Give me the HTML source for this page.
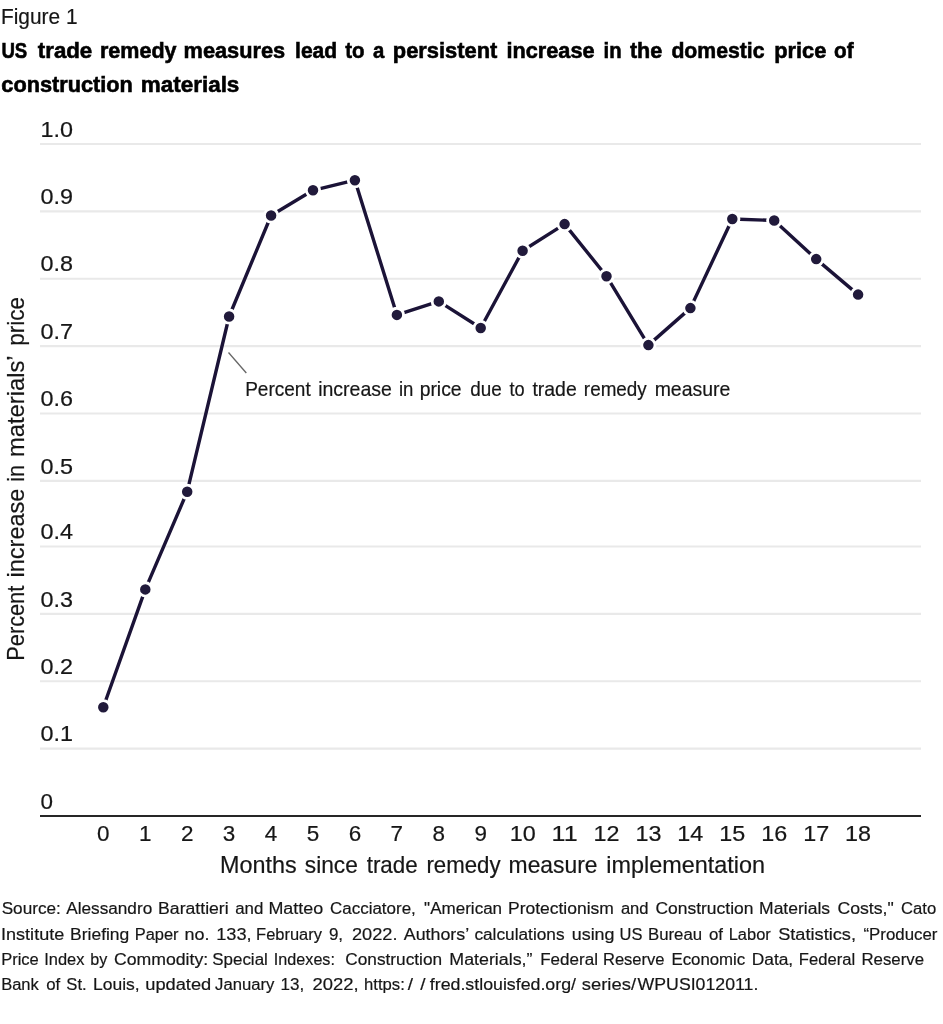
<!DOCTYPE html>
<html lang="en"><head><meta charset="utf-8"><title>Figure 1</title>
<style>
html,body{margin:0;padding:0;background:#fff;}
body{width:943px;height:1024px;overflow:hidden;}
svg{display:block;will-change:transform;}
text{font-family:"Liberation Sans", Arial, Helvetica, sans-serif;fill:#161616;stroke:#161616;stroke-width:0.2px;}
.b{font-weight:700;fill:#000;stroke:#000;stroke-width:0.6px;}
</style></head><body>
<svg width="943" height="1024" viewBox="0 0 943 1024">
<rect x="0" y="0" width="943" height="1024" fill="#ffffff"/>
<!-- header -->
<text x="1.00" y="23.90" font-size="21.60" textLength="76.50" lengthAdjust="spacingAndGlyphs">Figure 1</text>
<text y="57.70" font-size="22.80" class="b"><tspan x="1.38" textLength="25.89" lengthAdjust="spacingAndGlyphs">US</tspan> <tspan x="37.80" textLength="54.46" lengthAdjust="spacingAndGlyphs">trade</tspan> <tspan x="99.96" textLength="76.54" lengthAdjust="spacingAndGlyphs">remedy</tspan> <tspan x="183.55" textLength="101.60" lengthAdjust="spacingAndGlyphs">measures</tspan> <tspan x="295.08" textLength="42.08" lengthAdjust="spacingAndGlyphs">lead</tspan> <tspan x="345.20" textLength="19.33" lengthAdjust="spacingAndGlyphs">to</tspan> <tspan x="373.06" textLength="11.29" lengthAdjust="spacingAndGlyphs">a</tspan> <tspan x="392.84" textLength="104.47" lengthAdjust="spacingAndGlyphs">persistent</tspan> <tspan x="506.55" textLength="88.00" lengthAdjust="spacingAndGlyphs">increase</tspan> <tspan x="603.50" textLength="18.04" lengthAdjust="spacingAndGlyphs">in</tspan> <tspan x="629.90" textLength="32.34" lengthAdjust="spacingAndGlyphs">the</tspan> <tspan x="671.40" textLength="93.10" lengthAdjust="spacingAndGlyphs">domestic</tspan> <tspan x="774.24" textLength="52.11" lengthAdjust="spacingAndGlyphs">price</tspan> <tspan x="834.00" textLength="19.53" lengthAdjust="spacingAndGlyphs">of</tspan></text>
<text y="92.30" font-size="22.80" class="b"><tspan x="1.30" textLength="131.58" lengthAdjust="spacingAndGlyphs">construction</tspan> <tspan x="140.82" textLength="98.55" lengthAdjust="spacingAndGlyphs">materials</tspan></text>
<!-- grid -->
<line x1="40.0" y1="748.63" x2="921.0" y2="748.63" stroke="#e9e9e9" stroke-width="2.1"/>
<line x1="40.0" y1="681.26" x2="921.0" y2="681.26" stroke="#e9e9e9" stroke-width="2.1"/>
<line x1="40.0" y1="613.90" x2="921.0" y2="613.90" stroke="#e9e9e9" stroke-width="2.1"/>
<line x1="40.0" y1="546.50" x2="921.0" y2="546.50" stroke="#e9e9e9" stroke-width="2.1"/>
<line x1="40.0" y1="480.85" x2="921.0" y2="480.85" stroke="#e9e9e9" stroke-width="2.1"/>
<line x1="40.0" y1="413.50" x2="921.0" y2="413.50" stroke="#e9e9e9" stroke-width="2.1"/>
<line x1="40.0" y1="346.10" x2="921.0" y2="346.10" stroke="#e9e9e9" stroke-width="2.1"/>
<line x1="40.0" y1="278.76" x2="921.0" y2="278.76" stroke="#e9e9e9" stroke-width="2.1"/>
<line x1="40.0" y1="211.40" x2="921.0" y2="211.40" stroke="#e9e9e9" stroke-width="2.1"/>
<line x1="40.0" y1="144.00" x2="921.0" y2="144.00" stroke="#e9e9e9" stroke-width="2.1"/>
<text x="40.50" y="808.70" font-size="22.00" textLength="12.50" lengthAdjust="spacingAndGlyphs">0</text>
<text x="40.50" y="741.33" font-size="22.00" textLength="32.50" lengthAdjust="spacingAndGlyphs">0.1</text>
<text x="40.50" y="673.96" font-size="22.00" textLength="32.50" lengthAdjust="spacingAndGlyphs">0.2</text>
<text x="40.50" y="606.60" font-size="22.00" textLength="32.50" lengthAdjust="spacingAndGlyphs">0.3</text>
<text x="40.50" y="539.20" font-size="22.00" textLength="32.50" lengthAdjust="spacingAndGlyphs">0.4</text>
<text x="40.50" y="473.55" font-size="22.00" textLength="32.50" lengthAdjust="spacingAndGlyphs">0.5</text>
<text x="40.50" y="406.20" font-size="22.00" textLength="32.50" lengthAdjust="spacingAndGlyphs">0.6</text>
<text x="40.50" y="338.80" font-size="22.00" textLength="32.50" lengthAdjust="spacingAndGlyphs">0.7</text>
<text x="40.50" y="271.46" font-size="22.00" textLength="32.50" lengthAdjust="spacingAndGlyphs">0.8</text>
<text x="40.50" y="204.10" font-size="22.00" textLength="32.50" lengthAdjust="spacingAndGlyphs">0.9</text>
<text x="40.50" y="136.70" font-size="22.00" textLength="32.50" lengthAdjust="spacingAndGlyphs">1.0</text>
<line x1="40.0" y1="816.00" x2="921.0" y2="816.00" stroke="#262626" stroke-width="2.2"/>
<!-- x axis -->
<text x="103.35" y="840.60" font-size="22.00" textLength="12.50" lengthAdjust="spacingAndGlyphs" text-anchor="middle">0</text>
<text x="145.28" y="840.60" font-size="22.00" textLength="12.50" lengthAdjust="spacingAndGlyphs" text-anchor="middle">1</text>
<text x="187.21" y="840.60" font-size="22.00" textLength="12.50" lengthAdjust="spacingAndGlyphs" text-anchor="middle">2</text>
<text x="229.14" y="840.60" font-size="22.00" textLength="12.50" lengthAdjust="spacingAndGlyphs" text-anchor="middle">3</text>
<text x="271.07" y="840.60" font-size="22.00" textLength="12.50" lengthAdjust="spacingAndGlyphs" text-anchor="middle">4</text>
<text x="313.00" y="840.60" font-size="22.00" textLength="12.50" lengthAdjust="spacingAndGlyphs" text-anchor="middle">5</text>
<text x="354.93" y="840.60" font-size="22.00" textLength="12.50" lengthAdjust="spacingAndGlyphs" text-anchor="middle">6</text>
<text x="396.86" y="840.60" font-size="22.00" textLength="12.50" lengthAdjust="spacingAndGlyphs" text-anchor="middle">7</text>
<text x="438.79" y="840.60" font-size="22.00" textLength="12.50" lengthAdjust="spacingAndGlyphs" text-anchor="middle">8</text>
<text x="480.72" y="840.60" font-size="22.00" textLength="12.50" lengthAdjust="spacingAndGlyphs" text-anchor="middle">9</text>
<text x="522.65" y="840.60" font-size="22.00" textLength="26.00" lengthAdjust="spacingAndGlyphs" text-anchor="middle">10</text>
<text x="564.58" y="840.60" font-size="22.00" textLength="26.00" lengthAdjust="spacingAndGlyphs" text-anchor="middle">11</text>
<text x="606.51" y="840.60" font-size="22.00" textLength="26.00" lengthAdjust="spacingAndGlyphs" text-anchor="middle">12</text>
<text x="648.44" y="840.60" font-size="22.00" textLength="26.00" lengthAdjust="spacingAndGlyphs" text-anchor="middle">13</text>
<text x="690.37" y="840.60" font-size="22.00" textLength="26.00" lengthAdjust="spacingAndGlyphs" text-anchor="middle">14</text>
<text x="732.30" y="840.60" font-size="22.00" textLength="26.00" lengthAdjust="spacingAndGlyphs" text-anchor="middle">15</text>
<text x="774.23" y="840.60" font-size="22.00" textLength="26.00" lengthAdjust="spacingAndGlyphs" text-anchor="middle">16</text>
<text x="816.16" y="840.60" font-size="22.00" textLength="26.00" lengthAdjust="spacingAndGlyphs" text-anchor="middle">17</text>
<text x="858.09" y="840.60" font-size="22.00" textLength="26.00" lengthAdjust="spacingAndGlyphs" text-anchor="middle">18</text>
<text y="872.60" font-size="23.20"><tspan x="219.99" textLength="76.61" lengthAdjust="spacingAndGlyphs">Months</tspan> <tspan x="304.80" textLength="53.08" lengthAdjust="spacingAndGlyphs">since</tspan> <tspan x="366.70" textLength="51.07" lengthAdjust="spacingAndGlyphs">trade</tspan> <tspan x="426.44" textLength="74.17" lengthAdjust="spacingAndGlyphs">remedy</tspan> <tspan x="508.61" textLength="88.97" lengthAdjust="spacingAndGlyphs">measure</tspan> <tspan x="606.29" textLength="158.71" lengthAdjust="spacingAndGlyphs">implementation</tspan></text>
<g transform="translate(24.2 660) rotate(-90)">
<text y="0.00" font-size="23.20"><tspan x="-0.74" textLength="75.02" lengthAdjust="spacingAndGlyphs">Percent</tspan> <tspan x="82.59" textLength="88.82" lengthAdjust="spacingAndGlyphs">increase</tspan> <tspan x="178.13" textLength="16.84" lengthAdjust="spacingAndGlyphs">in</tspan> <tspan x="202.98" textLength="100.79" lengthAdjust="spacingAndGlyphs">materials’</tspan> <tspan x="314.33" textLength="48.74" lengthAdjust="spacingAndGlyphs">price</tspan></text>
</g>
<!-- annotation -->
<line x1="228.5" y1="352.5" x2="246.3" y2="373.0" stroke="#666" stroke-width="1.3"/>
<text y="395.60" font-size="20.20"><tspan x="245.16" textLength="65.57" lengthAdjust="spacingAndGlyphs">Percent</tspan> <tspan x="318.13" textLength="73.69" lengthAdjust="spacingAndGlyphs">increase</tspan> <tspan x="398.98" textLength="14.45" lengthAdjust="spacingAndGlyphs">in</tspan> <tspan x="419.64" textLength="41.98" lengthAdjust="spacingAndGlyphs">price</tspan> <tspan x="470.20" textLength="31.51" lengthAdjust="spacingAndGlyphs">due</tspan> <tspan x="509.47" textLength="15.17" lengthAdjust="spacingAndGlyphs">to</tspan> <tspan x="532.40" textLength="44.32" lengthAdjust="spacingAndGlyphs">trade</tspan> <tspan x="583.87" textLength="62.89" lengthAdjust="spacingAndGlyphs">remedy</tspan> <tspan x="654.64" textLength="75.68" lengthAdjust="spacingAndGlyphs">measure</tspan></text>
<!-- series -->
<polyline fill="none" stroke="#1b1337" stroke-width="3.4" stroke-linejoin="round" stroke-linecap="round" points="103.3,707.3 145.3,589.4 187.2,491.7 229.1,316.5 271.1,215.5 313.0,190.3 354.9,180.2 396.9,314.9 438.8,301.4 480.7,328.0 522.6,250.8 564.6,224.1 606.5,276.2 648.4,345.1 690.4,308.1 732.3,219.0 774.2,220.5 816.2,259.1 858.1,294.6"/>
<circle cx="103.3" cy="707.3" r="6.65" fill="#211a3b" stroke="#fff" stroke-width="2.8"/>
<circle cx="145.3" cy="589.4" r="6.65" fill="#211a3b" stroke="#fff" stroke-width="2.8"/>
<circle cx="187.2" cy="491.7" r="6.65" fill="#211a3b" stroke="#fff" stroke-width="2.8"/>
<circle cx="229.1" cy="316.5" r="6.65" fill="#211a3b" stroke="#fff" stroke-width="2.8"/>
<circle cx="271.1" cy="215.5" r="6.65" fill="#211a3b" stroke="#fff" stroke-width="2.8"/>
<circle cx="313.0" cy="190.3" r="6.65" fill="#211a3b" stroke="#fff" stroke-width="2.8"/>
<circle cx="354.9" cy="180.2" r="6.65" fill="#211a3b" stroke="#fff" stroke-width="2.8"/>
<circle cx="396.9" cy="314.9" r="6.65" fill="#211a3b" stroke="#fff" stroke-width="2.8"/>
<circle cx="438.8" cy="301.4" r="6.65" fill="#211a3b" stroke="#fff" stroke-width="2.8"/>
<circle cx="480.7" cy="328.0" r="6.65" fill="#211a3b" stroke="#fff" stroke-width="2.8"/>
<circle cx="522.6" cy="250.8" r="6.65" fill="#211a3b" stroke="#fff" stroke-width="2.8"/>
<circle cx="564.6" cy="224.1" r="6.65" fill="#211a3b" stroke="#fff" stroke-width="2.8"/>
<circle cx="606.5" cy="276.2" r="6.65" fill="#211a3b" stroke="#fff" stroke-width="2.8"/>
<circle cx="648.4" cy="345.1" r="6.65" fill="#211a3b" stroke="#fff" stroke-width="2.8"/>
<circle cx="690.4" cy="308.1" r="6.65" fill="#211a3b" stroke="#fff" stroke-width="2.8"/>
<circle cx="732.3" cy="219.0" r="6.65" fill="#211a3b" stroke="#fff" stroke-width="2.8"/>
<circle cx="774.2" cy="220.5" r="6.65" fill="#211a3b" stroke="#fff" stroke-width="2.8"/>
<circle cx="816.2" cy="259.1" r="6.65" fill="#211a3b" stroke="#fff" stroke-width="2.8"/>
<circle cx="858.1" cy="294.6" r="6.65" fill="#211a3b" stroke="#fff" stroke-width="2.8"/>
<!-- source note -->
<text y="914.00" font-size="17.30"><tspan x="1.70" textLength="59.10" lengthAdjust="spacingAndGlyphs">Source:</tspan> <tspan x="66.20" textLength="86.01" lengthAdjust="spacingAndGlyphs">Alessandro</tspan> <tspan x="158.08" textLength="70.58" lengthAdjust="spacingAndGlyphs">Barattieri</tspan> <tspan x="235.20" textLength="28.10" lengthAdjust="spacingAndGlyphs">and</tspan> <tspan x="268.46" textLength="54.77" lengthAdjust="spacingAndGlyphs">Matteo</tspan> <tspan x="330.00" textLength="85.79" lengthAdjust="spacingAndGlyphs">Cacciatore,</tspan> <tspan x="424.10" textLength="78.00" lengthAdjust="spacingAndGlyphs">&quot;American</tspan> <tspan x="507.99" textLength="105.91" lengthAdjust="spacingAndGlyphs">Protectionism</tspan> <tspan x="620.90" textLength="27.69" lengthAdjust="spacingAndGlyphs">and</tspan> <tspan x="655.50" textLength="97.92" lengthAdjust="spacingAndGlyphs">Construction</tspan> <tspan x="759.09" textLength="70.95" lengthAdjust="spacingAndGlyphs">Materials</tspan> <tspan x="837.40" textLength="56.34" lengthAdjust="spacingAndGlyphs">Costs,&quot;</tspan> <tspan x="901.00" textLength="35.19" lengthAdjust="spacingAndGlyphs">Cato</tspan></text>
<text y="940.00" font-size="17.30"><tspan x="1.06" textLength="63.18" lengthAdjust="spacingAndGlyphs">Institute</tspan> <tspan x="70.09" textLength="59.23" lengthAdjust="spacingAndGlyphs">Briefing</tspan> <tspan x="134.70" textLength="43.92" lengthAdjust="spacingAndGlyphs">Paper</tspan> <tspan x="184.56" textLength="24.97" lengthAdjust="spacingAndGlyphs">no.</tspan> <tspan x="216.19" textLength="35.41" lengthAdjust="spacingAndGlyphs">133,</tspan> <tspan x="256.12" textLength="65.86" lengthAdjust="spacingAndGlyphs">February</tspan> <tspan x="328.90" textLength="14.19" lengthAdjust="spacingAndGlyphs">9,</tspan> <tspan x="351.96" textLength="45.52" lengthAdjust="spacingAndGlyphs">2022.</tspan> <tspan x="403.80" textLength="64.66" lengthAdjust="spacingAndGlyphs">Authors’</tspan> <tspan x="474.40" textLength="90.14" lengthAdjust="spacingAndGlyphs">calculations</tspan> <tspan x="571.76" textLength="42.77" lengthAdjust="spacingAndGlyphs">using</tspan> <tspan x="619.54" textLength="22.86" lengthAdjust="spacingAndGlyphs">US</tspan> <tspan x="647.93" textLength="54.17" lengthAdjust="spacingAndGlyphs">Bureau</tspan> <tspan x="708.90" textLength="14.01" lengthAdjust="spacingAndGlyphs">of</tspan> <tspan x="728.71" textLength="42.10" lengthAdjust="spacingAndGlyphs">Labor</tspan> <tspan x="778.20" textLength="77.84" lengthAdjust="spacingAndGlyphs">Statistics,</tspan> <tspan x="863.50" textLength="73.96" lengthAdjust="spacingAndGlyphs">“Producer</tspan></text>
<text y="965.00" font-size="17.30"><tspan x="1.14" textLength="37.64" lengthAdjust="spacingAndGlyphs">Price</tspan> <tspan x="44.25" textLength="40.21" lengthAdjust="spacingAndGlyphs">Index</tspan> <tspan x="90.20" textLength="17.02" lengthAdjust="spacingAndGlyphs">by</tspan> <tspan x="113.90" textLength="94.32" lengthAdjust="spacingAndGlyphs">Commodity:</tspan> <tspan x="212.30" textLength="55.52" lengthAdjust="spacingAndGlyphs">Special</tspan> <tspan x="273.86" textLength="61.08" lengthAdjust="spacingAndGlyphs">Indexes:</tspan> <tspan x="345.30" textLength="96.81" lengthAdjust="spacingAndGlyphs">Construction</tspan> <tspan x="449.33" textLength="83.15" lengthAdjust="spacingAndGlyphs">Materials,”</tspan> <tspan x="540.22" textLength="57.71" lengthAdjust="spacingAndGlyphs">Federal</tspan> <tspan x="602.94" textLength="61.64" lengthAdjust="spacingAndGlyphs">Reserve</tspan> <tspan x="671.43" textLength="73.82" lengthAdjust="spacingAndGlyphs">Economic</tspan> <tspan x="751.70" textLength="41.51" lengthAdjust="spacingAndGlyphs">Data,</tspan> <tspan x="798.84" textLength="56.27" lengthAdjust="spacingAndGlyphs">Federal</tspan> <tspan x="861.43" textLength="62.57" lengthAdjust="spacingAndGlyphs">Reserve</tspan></text>
<text y="990.00" font-size="17.30"><tspan x="1.14" textLength="37.71" lengthAdjust="spacingAndGlyphs">Bank</tspan> <tspan x="46.20" textLength="14.01" lengthAdjust="spacingAndGlyphs">of</tspan> <tspan x="66.35" textLength="20.37" lengthAdjust="spacingAndGlyphs">St.</tspan> <tspan x="92.99" textLength="46.73" lengthAdjust="spacingAndGlyphs">Louis,</tspan> <tspan x="145.24" textLength="66.00" lengthAdjust="spacingAndGlyphs">updated</tspan> <tspan x="215.08" textLength="59.29" lengthAdjust="spacingAndGlyphs">January</tspan> <tspan x="280.61" textLength="23.68" lengthAdjust="spacingAndGlyphs">13,</tspan> <tspan x="312.43" textLength="46.09" lengthAdjust="spacingAndGlyphs">2022,</tspan> <tspan x="364.08" textLength="40.76" lengthAdjust="spacingAndGlyphs">https:</tspan><tspan x="407.75" textLength="5.28" lengthAdjust="spacingAndGlyphs">&#47;</tspan><tspan x="420.15" textLength="5.28" lengthAdjust="spacingAndGlyphs">&#47;</tspan><tspan x="429.80" textLength="146.20" lengthAdjust="spacingAndGlyphs">fred.stlouisfed.org&#47;</tspan><tspan x="581.77" textLength="54.25" lengthAdjust="spacingAndGlyphs">series&#47;</tspan><tspan x="637.60" textLength="120.72" lengthAdjust="spacingAndGlyphs">WPUSI012011.</tspan></text>
</svg>
</body></html>
